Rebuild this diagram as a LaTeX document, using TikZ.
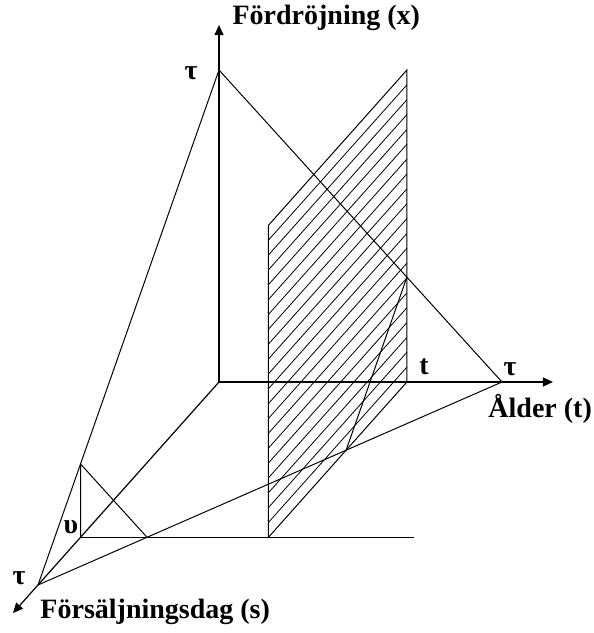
\documentclass[tikz,border=0pt]{standalone}
\usepackage{fontspec}
\setmainfont{Liberation Serif}
\usetikzlibrary{arrows.meta}

\begin{document}
\begin{tikzpicture}[x={(141.5pt,0pt)},y={(0pt,156pt)},z={(-90.5pt,-101.5pt)},
  >={Triangle[length=5pt,width=4.5pt]},line width=0.5pt,
  lbl/.style={font=\fontsize{14pt}{16pt}\selectfont\bfseries,inner sep=0pt},
  hatch/.style={line width=0.4pt}]
\useasboundingbox (-109.5pt,-125.5pt) rectangle (187.5pt,191pt);
\coordinate (O) at (0,0,0);
\coordinate (taux) at (0,1,0);
\coordinate (taut) at (1,0,0);
\coordinate (taus) at (0,0,1);
\coordinate (ups) at (0,0,0.765);
\coordinate (t0) at (0.664,0,0);
% axes
\draw[->,line width=0.6pt] (O)--(0,1.144,0) node[lbl,anchor=base west,xshift=6.5pt,yshift=0.5pt] (xlab) {Fördröjning (x)};
\draw[->,line width=0.6pt] (O)--(1.18,0,0) coordinate (tend);
\draw[->,line width=0.6pt] (O)--(0,0,1.138) coordinate (send);
\node[lbl,anchor=base west] (tlab) at (134.5pt,-17.5pt) {Ålder (t)};
\node[lbl,anchor=base west] (slab) at (-89.5pt,-118pt) {Försäljningsdag (s)};
% plane s+t+x=tau
\draw (taux)--(taus)--(taut)--cycle;
% section s=upsilon
\draw (ups)--(1.18,0,0.765);
\draw (ups)--(0,0.235,0.765)--(0.235,0,0.765);
% hatched section t=t
\foreach \h in {1,...,20}
  \draw[hatch] (0.664,{\h/21},0)--(0.664,{\h/21},0.765);
\draw (t0)--(0.664,1,0)--(0.664,1,0.765)--(0.664,0,0.765)--cycle;
\draw (0.664,0.336,0)--(0.664,0,0.336);
% labels
\node[lbl] (tx) at (-14pt,154.5pt) {τ};
\node[lbl] (ts) at (-100pt,-98pt) {τ};
\node[lbl] (tt) at (145.5pt,6.5pt) {τ};
\node[lbl] (tl) at (102.5pt,7.5pt) {t};
\node[lbl] (ul) at (-74pt,-72.5pt) {υ};
\end{tikzpicture}
\end{document}
